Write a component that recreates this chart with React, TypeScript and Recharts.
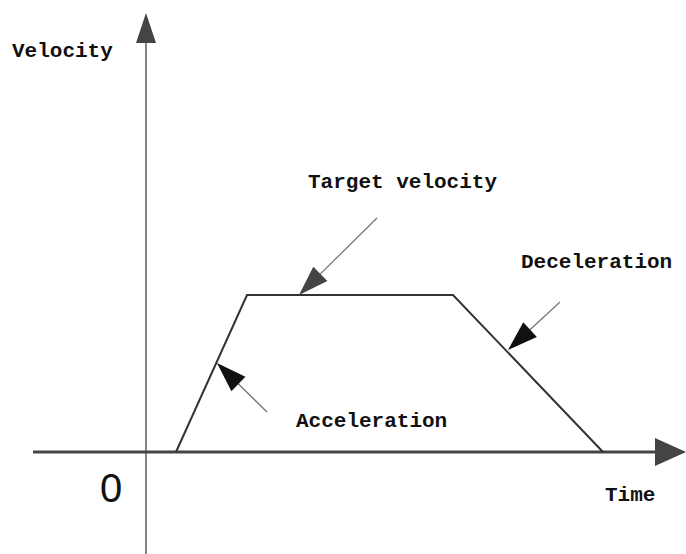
import React from 'react';
import { ComposedChart, Line, XAxis, YAxis, ReferenceLine, ReferenceDot } from 'recharts';

// Trapezoidal velocity profile (time, velocity), 1 unit = 100 px
const profileTime = [0.3, 1.01, 3.07, 4.57];
const profileVelocity = [0, 1.57, 1.57, 0];

// Axis extents
const timeAxisRange = [-1.13, 5.4];
const velocityAxisRange = [-1.02, 4.39];

// Annotation arrows: [tailTime, tailVelocity, tipTime, tipVelocity]
const arrowNames = ['Target velocity', 'Acceleration', 'Deceleration'];
const arrowTail = [
  [2.31, 2.34],
  [1.21, 0.4],
  [4.14, 1.5],
];
const arrowTip = [
  [1.53, 1.57],
  [0.71, 0.89],
  [3.62, 1.02],
];

// Text labels
const labelTexts = ['Velocity', 'Target velocity', 'Deceleration', 'Acceleration', 'Time'];
const labelAnchor = [
  [-1.34, 3.95],
  [1.62, 2.64],
  [3.75, 1.84],
  [1.5, 0.25],
  [4.59, -0.49],
];
const originLabel = '0';

const data = profileTime.map((t, i) => ({ t, v: profileVelocity[i] }));

const W = 686;
const H = 554;

function arrowHead(x1: number, y1: number, x2: number, y2: number, len: number, half: number) {
  const dx = x2 - x1;
  const dy = y2 - y1;
  const d = Math.sqrt(dx * dx + dy * dy) || 1;
  const ux = dx / d;
  const uy = dy / d;
  const bx = x2 - ux * len;
  const by = y2 - uy * len;
  const px = -uy * half;
  const py = ux * half;
  return `M${x2},${y2} L${bx + px},${by + py} L${bx - px},${by - py} Z`;
}

const makeArrowShape = (
  lineColor: string,
  lineWidth: number,
  headColor: string,
  len: number,
  half: number
) => (props: any) => {
  const { x1, y1, x2, y2 } = props;
  if (x1 == null) return null;
  const dx = x2 - x1;
  const dy = y2 - y1;
  const d = Math.sqrt(dx * dx + dy * dy) || 1;
  const lx = x2 - (dx / d) * (len * 0.8);
  const ly = y2 - (dy / d) * (len * 0.8);
  return (
    <g>
      <line x1={x1} y1={y1} x2={lx} y2={ly} stroke={lineColor} strokeWidth={lineWidth} />
      <path d={arrowHead(x1, y1, x2, y2, len, half)} fill={headColor} />
    </g>
  );
};

const textShape = (text: string, opts: any) => (props: any) => {
  const { cx, cy } = props;
  if (cx == null) return null;
  return (
    <text x={cx} y={cy} {...opts}>
      {text}
    </text>
  );
};

const labelStyle = {
  fontFamily: '"Liberation Mono", "DejaVu Sans Mono", monospace',
  fontWeight: 'bold',
  fontSize: 21,
  fill: '#111',
  textAnchor: 'start',
};

export default function App() {
  return (
    <div style={{ position: 'absolute', left: 0, top: 0, width: W, height: H, background: '#fff' }}>
      <ComposedChart width={W} height={H} data={data} margin={{ top: 0, right: 0, bottom: 0, left: 0 }}>
        <XAxis dataKey="t" type="number" domain={[-1.46, 5.4]} hide allowDataOverflow />
        <YAxis type="number" domain={[-1.02, 4.52]} hide allowDataOverflow />

        {/* Velocity axis */}
        <ReferenceLine
          segment={[
            { x: 0, y: velocityAxisRange[0] },
            { x: 0, y: velocityAxisRange[1] },
          ]}
          ifOverflow="visible"
          shape={makeArrowShape('#666', 1.6, '#444', 30, 10)}
        />
        {/* Time axis */}
        <ReferenceLine
          segment={[
            { x: timeAxisRange[0], y: 0 },
            { x: timeAxisRange[1], y: 0 },
          ]}
          ifOverflow="visible"
          shape={makeArrowShape('#444', 3, '#444', 31, 14)}
        />

        <Line
          dataKey="v"
          type="linear"
          stroke="#333"
          strokeWidth={2}
          dot={false}
          activeDot={false}
          isAnimationActive={false}
        />

        {arrowNames.map((name, i) => (
          <ReferenceLine
            key={name}
            segment={[
              { x: arrowTail[i][0], y: arrowTail[i][1] },
              { x: arrowTip[i][0], y: arrowTip[i][1] },
            ]}
            ifOverflow="visible"
            shape={makeArrowShape('#777', 1.3, i === 0 ? '#444' : '#111', 30, 10)}
          />
        ))}

        {labelTexts.map((t, i) => (
          <ReferenceDot
            key={t}
            x={labelAnchor[i][0]}
            y={labelAnchor[i][1]}
            r={1}
            ifOverflow="visible"
            shape={textShape(t, labelStyle)}
          />
        ))}
        <ReferenceDot
          x={-0.35}
          y={-0.5}
          r={1}
          ifOverflow="visible"
          shape={textShape(originLabel, {
            fontFamily: '"Liberation Sans", Arial, sans-serif',
            fontSize: 40,
            fill: '#111',
            textAnchor: 'middle',
          })}
        />
      </ComposedChart>
    </div>
  );
}
